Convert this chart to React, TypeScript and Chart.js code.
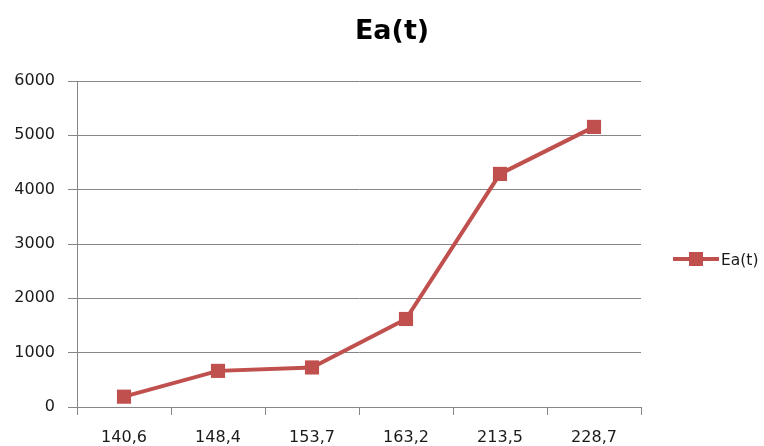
import React, { useEffect, useRef } from "react";
import { Chart, registerables } from "chart.js";

Chart.register(...registerables);

const categories = ["140,6", "148,4", "153,7", "163,2", "213,5", "228,7"];
const eaValues = [190, 665, 728, 1620, 4290, 5155];
const seriesName = "Ea(t)";
const chartTitle = "Ea(t)";
const yMin = 0;
const yMax = 6000;
const yStep = 1000;

const LINE_COLOR = "#C0504D";
const GRID_COLOR = "#868686";
const TEXT_COLOR = "#1a1a1a";
const FONT = "'DejaVu Sans', sans-serif";

const overlayPlugin = {
  id: "overlay",
  afterDraw(chart: any) {
    const ctx = chart.ctx;
    ctx.save();
    // title
    ctx.fillStyle = "#000";
    ctx.font = `bold 27px ${FONT}`;
    ctx.textAlign = "center";
    ctx.textBaseline = "middle";
    ctx.fillText(chartTitle, 392, 32);
    // legend
    const ly = 259;
    ctx.strokeStyle = LINE_COLOR;
    ctx.lineWidth = 4;
    ctx.beginPath();
    ctx.moveTo(673, ly);
    ctx.lineTo(719, ly);
    ctx.stroke();
    ctx.fillStyle = LINE_COLOR;
    ctx.fillRect(696 - 7, ly - 7, 14, 14);
    ctx.fillStyle = TEXT_COLOR;
    ctx.font = `15.5px ${FONT}`;
    ctx.textAlign = "left";
    ctx.fillText(seriesName, 721, ly + 2);
    ctx.restore();
  },
};

export default function App() {
  const ref = useRef<HTMLCanvasElement | null>(null);
  useEffect(() => {
    document.body.style.margin = "0";
    const chart = new Chart(ref.current!, {
      type: "line",
      data: {
        labels: categories,
        datasets: [
          {
            label: seriesName,
            data: eaValues,
            borderColor: LINE_COLOR,
            backgroundColor: LINE_COLOR,
            borderWidth: 4,
            pointStyle: "rect",
            pointRadius: 10,
            pointBorderWidth: 0,
            pointBackgroundColor: LINE_COLOR,
            tension: 0,
          },
        ],
      },
      options: {
        animation: false,
        responsive: false,
        maintainAspectRatio: false,
        layout: { padding: { top: 81, right: 123, left: 0, bottom: 0 } },
        plugins: {
          legend: { display: false },
          title: { display: false },
          tooltip: { enabled: false },
        },
        scales: {
          x: {
            type: "category",
            offset: true,
            grid: {
              offset: true,
              drawOnChartArea: false,
              drawTicks: true,
              tickLength: 8,
              color: GRID_COLOR,
              lineWidth: 1,
            },
            border: { display: true, color: GRID_COLOR, width: 1 },
            ticks: {
              color: TEXT_COLOR,
              font: { family: FONT, size: 16 },
              padding: 13,
              maxRotation: 0,
              autoSkip: false,
            },
            afterFit(scale: any) {
              scale.height = 39;
            },
          },
          y: {
            min: yMin,
            max: yMax,
            grid: {
              color: GRID_COLOR,
              lineWidth: 1,
              drawTicks: true,
              tickLength: 9,
            },
            border: { display: true, color: GRID_COLOR, width: 1 },
            ticks: {
              stepSize: yStep,
              color: TEXT_COLOR,
              font: { family: FONT, size: 16 },
              padding: 13,
              callback: (v: any) => String(v),
            },
            afterFit(scale: any) {
              scale.width = 77;
            },
          },
        },
      },
      plugins: [overlayPlugin],
    });
    return () => chart.destroy();
  }, []);
  return (
    <div style={{ width: 764, height: 446, background: "#fff" }}>
      <canvas ref={ref} width={764} height={446} style={{ display: "block" }} />
    </div>
  );
}
